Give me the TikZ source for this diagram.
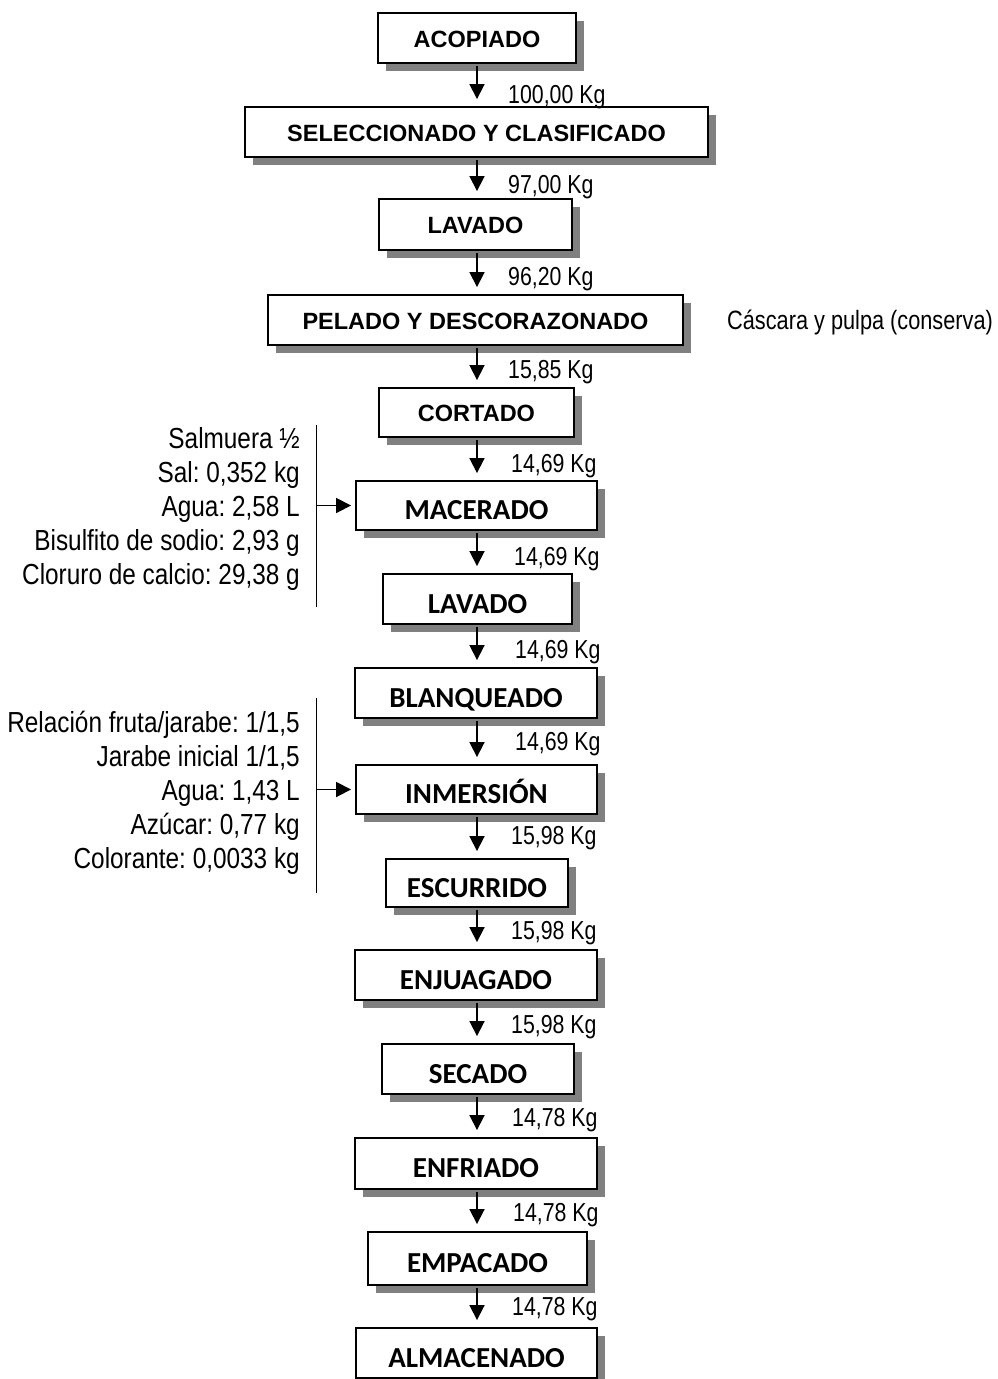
\documentclass[tikz,border=0pt]{standalone}
\usepackage{fontspec}
\setmainfont{Liberation Sans}
\newfontfamily\arb{Liberation Sans}
\newfontfamily\calb{Carlito}
\newfontfamily\narrow{Liberation Sans}[FakeStretch=0.82]
\newfontfamily\narrownote{Liberation Sans}[FakeStretch=0.84]
\usetikzlibrary{arrows.meta,shadows}
\frenchspacing
\begin{document}
\begin{tikzpicture}[x=1pt,y=-1pt,
  boxbase/.style={draw, line width=1.9pt, fill=white, inner sep=0pt,
    drop shadow={shadow xshift=7.5pt, shadow yshift=-7.5pt, fill=black!50, opacity=1}},
  boxA/.style={boxbase, font=\arb\bfseries\fontsize{23.5}{27}\selectfont, text height=18.8pt, text depth=0pt},
  boxC/.style={boxbase, font=\calb\bfseries\fontsize{29}{33}\selectfont, text height=28.5pt, text depth=0pt},
  flow/.style={line width=1.8pt, -{Triangle[width=15pt,length=15pt]}, shorten <=2pt, shorten >=7pt},
  side/.style={line width=1.8pt, -{Triangle[width=15pt,length=15pt]}, shorten >=4pt},
  kg/.style={font=\narrow\fontsize{26}{30}\selectfont, anchor=base west, inner sep=0pt},
  note/.style={font=\narrownote\fontsize{29}{33}\selectfont, anchor=base east, inner sep=0pt},
  vline/.style={line width=0.9pt}
]
\useasboundingbox (0,0) rectangle (997,1379);

\coordinate (ax) at (477,0);

\node[boxA, minimum width=198pt, minimum height=50pt] (b1) at (477,38) {ACOPIADO};
\node[boxA, minimum width=463pt, minimum height=50pt] (b2) at (476.5,132) {SELECCIONADO Y CLASIFICADO};
\node[boxA, minimum width=193pt, minimum height=51pt] (b3) at (475.5,224.5) {LAVADO};
\node[boxA, minimum width=415pt, minimum height=50pt] (b4) at (475.5,320) {PELADO Y DESCORAZONADO};
\node[boxA, minimum width=195pt, minimum height=49pt] (b5) at (476.5,412.5) {CORTADO};
\node[boxC, minimum width=241pt, minimum height=49pt] (b6) at (476.5,505.5) {MACERADO};
\node[boxC, minimum width=189pt, minimum height=50pt] (b7) at (477.5,599) {LAVADO};
\node[boxC, minimum width=242pt, minimum height=50pt] (b8) at (476,693) {BLANQUEADO};
\node[boxC, minimum width=241pt, minimum height=49pt] (b9) at (476.5,789.5) {INMERSIÓN};
\node[boxC, minimum width=182pt, minimum height=48pt] (b10) at (477,883) {ESCURRIDO};
\node[boxC, minimum width=242pt, minimum height=50pt] (b11) at (476,975) {ENJUAGADO};
\node[boxC, minimum width=192pt, minimum height=50pt] (b12) at (478,1069) {SECADO};
\node[boxC, minimum width=242pt, minimum height=51pt] (b13) at (476,1163.5) {ENFRIADO};
\node[boxC, minimum width=219pt, minimum height=53pt] (b14) at (477.5,1258.5) {EMPACADO};
\node[boxC, minimum width=241pt, minimum height=50pt] (b15) at (476.5,1353) {ALMACENADO};

\foreach \a/\b in {b1/b2,b2/b3,b3/b4,b4/b5,b5/b6,b6/b7,b7/b8,b8/b9,b9/b10,b10/b11,b11/b12,b12/b13,b13/b14,b14/b15}
  \draw[flow] (\a.south -| ax) -- (\b.north -| ax);

\node[kg] (k1) at (508,103.5) {100,00 Kg};
\node[kg] (k2) at (508,193.5) {97,00 Kg};
\node[kg] (k3) at (508,285.5) {96,20 Kg};
\node[kg] (k4) at (508,378.5) {15,85 Kg};
\node[kg] (k5) at (511,472.5) {14,69 Kg};
\node[kg] (k6) at (514,565.5) {14,69 Kg};
\node[kg] (k7) at (515,658.5) {14,69 Kg};
\node[kg] (k8) at (515,750.5) {14,69 Kg};
\node[kg] (k9) at (511,844.5) {15,98 Kg};
\node[kg] (k10) at (511,939.5) {15,98 Kg};
\node[kg] (k11) at (511,1033.5) {15,98 Kg};
\node[kg] (k12) at (512,1126.5) {14,78 Kg};
\node[kg] (k13) at (513,1221.5) {14,78 Kg};
\node[kg] (k14) at (512,1315.5) {14,78 Kg};

\node[font=\narrow\fontsize{26.5}{30}\selectfont, anchor=base west, inner sep=0pt] (cas) at (727,329.5) {Cáscara y pulpa (conserva)};

% first side input
\node[note] (m1) at (300,448.4) {Salmuera ½};
\node[note] (m2) at (300,482.4) {Sal: 0,352 kg};
\node[note] (m3) at (300,516.4) {Agua: 2,58 L};
\node[note] (m4) at (300,550.4) {Bisulfito de sodio: 2,93 g};
\node[note] (m5) at (300,584.4) {Cloruro de calcio: 29,38 g};
\coordinate (v1t) at (316,425);
\coordinate (v1b) at (316,607);
\coordinate (v1m) at (316,505.5);
\draw[vline] (v1t) -- (v1b);
\draw[side] (v1m) -- (b6.west);

% second side input
\node[note] (i1) at (300,732.4) {Relación fruta/jarabe: 1/1,5};
\node[note] (i2) at (300,766.4) {Jarabe inicial 1/1,5};
\node[note] (i3) at (300,800.4) {Agua: 1,43 L};
\node[note] (i4) at (300,834.4) {Azúcar: 0,77 kg};
\node[note] (i5) at (300,868.4) {Colorante: 0,0033 kg};
\coordinate (v2t) at (316,698);
\coordinate (v2b) at (316,893);
\coordinate (v2m) at (316,789.5);
\draw[vline] (v2t) -- (v2b);
\draw[side] (v2m) -- (b9.west);
\end{tikzpicture}
\end{document}
